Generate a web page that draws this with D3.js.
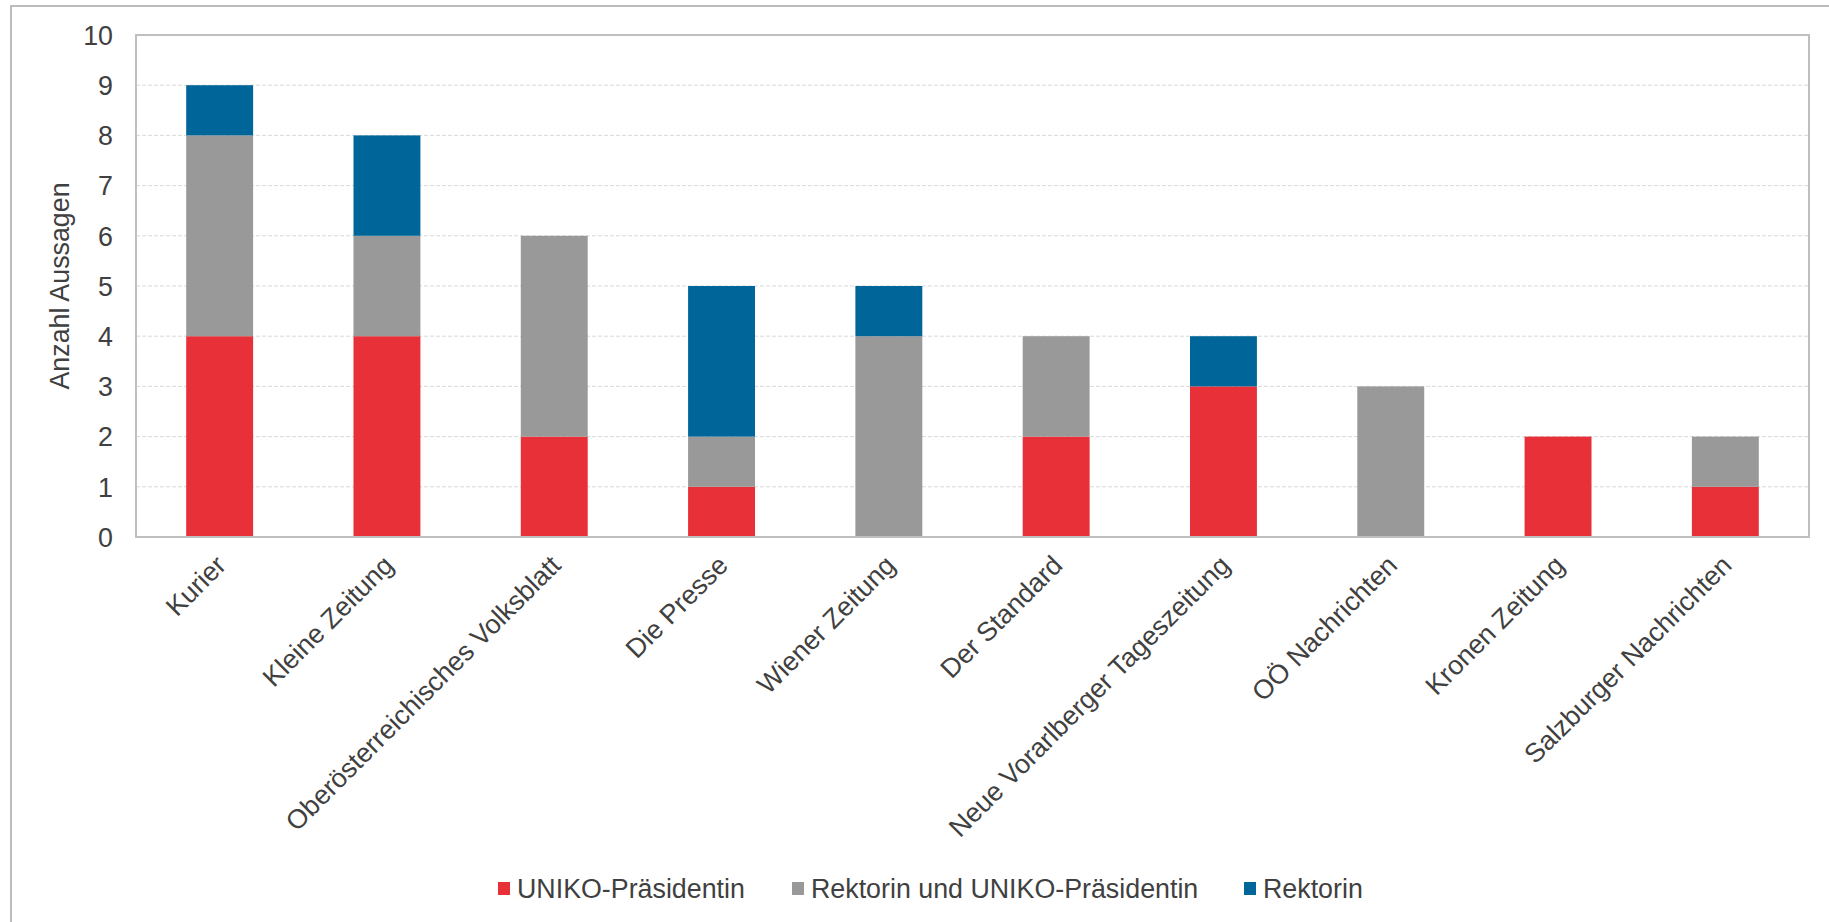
<!DOCTYPE html>
<html><head><meta charset="utf-8">
<script src="https://cdn.jsdelivr.net/npm/d3@7"></script>
<style>
html,body{margin:0;padding:0;background:#fff;overflow:hidden}
text{font-family:"Liberation Sans",Arial,sans-serif;fill:#404040}
</style></head>
<body>
<svg id="chart" width="1829" height="922"></svg>
<script>
const categories = ["Kurier","Kleine Zeitung","Oberösterreichisches Volksblatt","Die Presse","Wiener Zeitung","Der Standard","Neue Vorarlberger Tageszeitung","OÖ Nachrichten","Kronen Zeitung","Salzburger Nachrichten"];
const seriesNames = ["UNIKO-Präsidentin","Rektorin und UNIKO-Präsidentin","Rektorin"];
const uniko = [4,4,2,1,0,2,3,0,2,1];
const rektorinUndUniko = [4,2,4,1,4,2,0,3,0,1];
const rektorin = [1,2,0,3,1,0,1,0,0,0];
const yTicks = [0,1,2,3,4,5,6,7,8,9,10];
const colors = ["#E83038","#999999","#006699"];
const yTitle = "Anzahl Aussagen";

const svg = d3.select("#chart");
const W = 1829, H = 922;
const FS = "26.8px";
const m = {left:136, right:W-1809, top:35, bottom:H-537};

// outer frame
svg.append("rect").attr("x",11).attr("y",6).attr("width",W).attr("height",H)
  .attr("fill","none").attr("stroke","#a6a6a6").attr("stroke-width",1.5);

const x = d3.scaleBand().domain(categories).range([m.left, W-m.right]).paddingInner(0.6).paddingOuter(0.3);
const y = d3.scaleLinear().domain([0,10]).range([H-m.bottom, m.top]);

// gridlines
svg.append("g").selectAll("line").data(yTicks.filter(t=>t>0 && t<10)).join("line")
  .attr("x1",m.left).attr("x2",W-m.right)
  .attr("y1",d=>y(d)).attr("y2",d=>y(d))
  .attr("stroke","#d9d9d9").attr("stroke-width",1).attr("stroke-dasharray","4,2");

// stacked data
const rows = categories.map((c,i)=>({cat:c, s0:uniko[i], s1:rektorinUndUniko[i], s2:rektorin[i]}));
const stack = d3.stack().keys(["s0","s1","s2"])(rows);
svg.append("g").selectAll("g").data(stack).join("g")
  .attr("fill",(d,i)=>colors[i])
  .selectAll("rect").data(d=>d.filter(v=>v[1]-v[0]>0)).join("rect")
  .attr("x",d=>x(d.data.cat)).attr("width",x.bandwidth())
  .attr("y",d=>y(d[1])).attr("height",d=>y(d[0])-y(d[1]));

// plot frame
svg.append("rect").attr("x",m.left).attr("y",m.top)
  .attr("width",W-m.right-m.left).attr("height",H-m.bottom-m.top)
  .attr("fill","none").attr("stroke","#bfbfbf").attr("stroke-width",2);

// y axis
const yAxis = d3.axisLeft(y).tickValues(yTicks).tickSize(0).tickPadding(23).tickFormat(d3.format("d"));
const gy = svg.append("g").attr("transform",`translate(${m.left},0)`).call(yAxis);
gy.select(".domain").remove();
gy.selectAll("text").style("font-size",FS).style("fill","#404040").attr("dy","0.35em");

// x axis
const xAxis = d3.axisBottom(x).tickSize(0).tickPadding(0);
const gx = svg.append("g").attr("transform",`translate(0,${H-m.bottom})`).call(xAxis);
gx.select(".domain").remove();
gx.selectAll("text").style("font-size",FS).style("fill","#404040")
  .attr("text-anchor","end").attr("dy",0).attr("y",0)
  .attr("transform","translate(8,30) rotate(-45)");

// y title
svg.append("text").attr("transform",`translate(${60},${(m.top+H-m.bottom)/2}) rotate(-90)`)
  .attr("text-anchor","middle").attr("dy","0.35em").style("font-size",FS).text(yTitle);

// legend
const legX = [498, 792, 1244];
const lg = svg.append("g").selectAll("g").data(seriesNames).join("g")
  .attr("transform",(d,i)=>`translate(${legX[i]},889)`);
lg.append("rect").attr("x",0).attr("y",-7).attr("width",12).attr("height",13).attr("fill",(d,i)=>colors[i]);
lg.append("text").attr("x",19).attr("y",0).attr("dy","0.35em").style("font-size",FS).text(d=>d);
</script>
</body></html>
